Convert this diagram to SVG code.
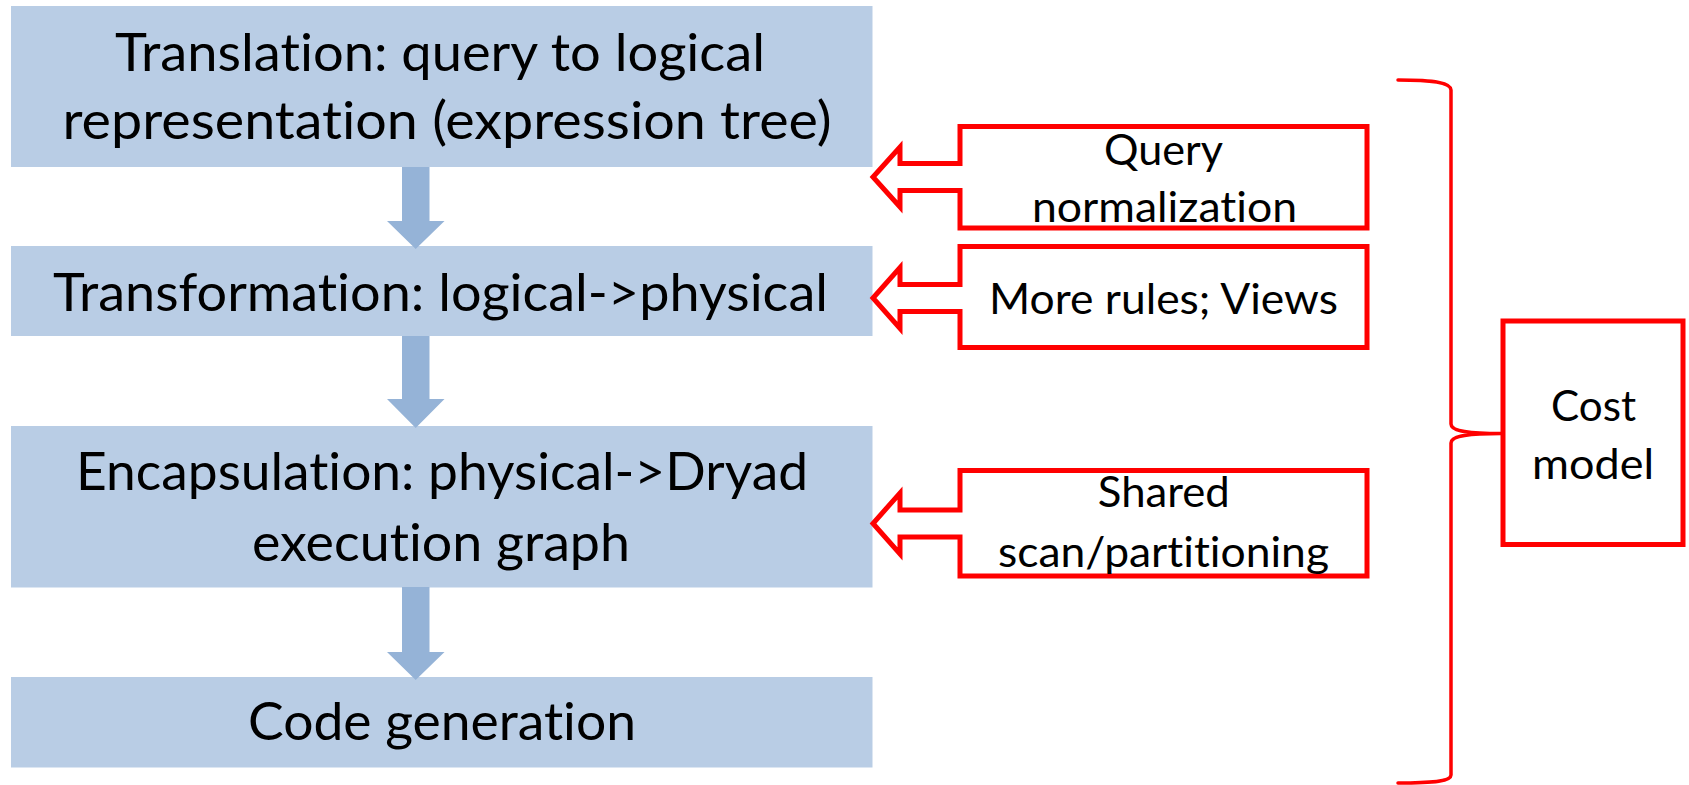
<svg xmlns="http://www.w3.org/2000/svg" width="1689" height="785" viewBox="0 0 1689 785">
  <style>
    .stage { fill: #B9CDE5; }
    .flow { fill: #95B3D7; }
    text { font-family: Lato, "Liberation Sans", sans-serif; fill: #000; text-anchor: middle; font-variant-ligatures: none; font-feature-settings: "liga" 0, "clig" 0; }
    .big { font-size: 52px; }
    .small { font-size: 42px; }
    .callout { fill: #FFFFFF; stroke: #FF0000; stroke-width: 5; stroke-linejoin: miter; stroke-miterlimit: 10; }
    .brace { fill: none; stroke: #FF0000; stroke-width: 3.5; stroke-linecap: round; stroke-linejoin: round; }
  </style>

  <!-- Pipeline stages -->
  <g id="translation">
    <rect class="stage" x="11" y="6" width="861.5" height="161"/>
    <text class="big" x="440" y="71" textLength="650" lengthAdjust="spacingAndGlyphs">Translation: query to logical</text>
    <text class="big" x="447" y="139" textLength="769" lengthAdjust="spacingAndGlyphs">representation (expression tree)</text>
  </g>
  <g id="transformation">
    <rect class="stage" x="11" y="246" width="861.5" height="90"/>
    <text class="big" x="440.5" y="311" textLength="775" lengthAdjust="spacingAndGlyphs">Transformation: logical-&gt;physical</text>
  </g>
  <g id="encapsulation">
    <rect class="stage" x="11" y="426" width="861.5" height="161.5"/>
    <text class="big" x="442" y="490" textLength="732" lengthAdjust="spacingAndGlyphs">Encapsulation: physical-&gt;Dryad</text>
    <text class="big" x="441" y="560.5" textLength="378" lengthAdjust="spacingAndGlyphs">execution graph</text>
  </g>
  <g id="codegen">
    <rect class="stage" x="11" y="677" width="861.5" height="90.5"/>
    <text class="big" x="442" y="740" textLength="388" lengthAdjust="spacingAndGlyphs">Code generation</text>
  </g>

  <!-- Block arrows between stages -->
  <g id="connectors">
    <polygon class="flow" points="402,167 429.5,167 429.5,221 444.5,221 415.7,249 387,221 402,221"/>
    <polygon class="flow" points="402,336 429.5,336 429.5,399 444.5,399 415.7,428 387,399 402,399"/>
    <polygon class="flow" points="402,587 429.5,587 429.5,652 444.5,652 415.7,680 387,652 402,652"/>
  </g>

  <!-- Optimisation callouts pointing at the stages -->
  <g id="query-normalization">
    <path class="callout" d="M960,126.5 H1367 V228 H960 V190.5 H900 V207 L873,177 L900,147 V163.5 H960 Z"/>
    <text class="small" x="1163.5" y="165" textLength="119" lengthAdjust="spacingAndGlyphs">Query</text>
    <text class="small" x="1164.5" y="222" textLength="265" lengthAdjust="spacingAndGlyphs">normalization</text>
  </g>
  <g id="more-rules">
    <path class="callout" d="M960,246.5 H1367 V347.5 H960 V311.5 H900 V328.5 L873,298 L900,267.5 V284.5 H960 Z"/>
    <text class="small" x="1163.5" y="314" textLength="349" lengthAdjust="spacingAndGlyphs">More rules; Views</text>
  </g>
  <g id="shared-scan">
    <path class="callout" d="M960,470.5 H1367 V576 H960 V537 H900 V554 L873,523.5 L900,493 V510 H960 Z"/>
    <text class="small" x="1163.8" y="507" textLength="132" lengthAdjust="spacingAndGlyphs">Shared</text>
    <text class="small" x="1163.5" y="567" textLength="331" lengthAdjust="spacingAndGlyphs">scan/partitioning</text>
  </g>

  <!-- Brace grouping all stages under the cost model -->
  <g id="cost-brace">
    <path class="brace" d="M1398,80 C1436,80 1451,83 1451,90 V424 C1451,430 1462,433.5 1501,433.5 C1462,433.5 1451,437 1451,443 V775 C1451,781 1436,783 1398,783"/>
  </g>
  <g id="cost-model">
    <rect class="callout" x="1503" y="321" width="180" height="223.5"/>
    <text class="small" x="1593.5" y="420.5" textLength="85" lengthAdjust="spacingAndGlyphs">Cost</text>
    <text class="small" x="1593" y="478.5" textLength="122" lengthAdjust="spacingAndGlyphs">model</text>
  </g>
</svg>
